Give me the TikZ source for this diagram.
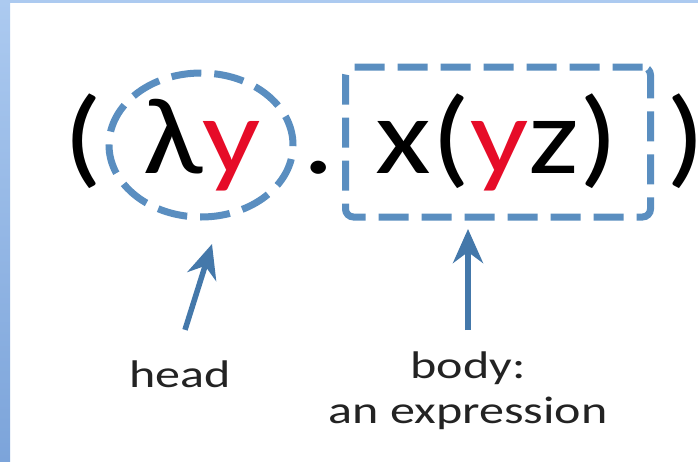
\documentclass[tikz,border=0pt]{standalone}
\usepackage{fontspec}
\setmainfont{Carlito}
\usetikzlibrary{arrows.meta,shapes.geometric}
\definecolor{dashblue}{RGB}{90,142,192}
\definecolor{pointblue}{RGB}{68,120,170}
\definecolor{varred}{RGB}{230,12,40}
\definecolor{taggray}{RGB}{35,35,35}
\definecolor{framelight}{RGB}{172,202,240}
\definecolor{framedark}{RGB}{124,164,218}
\newcommand{\wideterm}[1]{\scalebox{1.18}[1]{#1}}
\newcommand{\widetag}[1]{\scalebox{1.3}[1]{#1}}

\begin{document}
\begin{tikzpicture}[x=1pt,y=-1pt,line width=0.9pt,>={Stealth[length=34pt,width=30pt]},
  term/.style={font=\fontsize{109}{120}\selectfont,inner sep=0pt,anchor=base},
  tag/.style={font=\fontsize{38.5}{45}\selectfont,text=taggray,inner sep=0pt,anchor=base},
  dashline/.style={draw=dashblue,line width=7pt,dash pattern=on 30pt off 13pt},
  pointer/.style={->,draw=pointblue,line width=5.5pt}]
% page and frame
\fill[white] (0,0) rectangle (698,461);
\shade[top color=framelight,bottom color=framedark] (0,0) rectangle (10,461);
\fill[framelight] (0,0) rectangle (698,3);
\useasboundingbox (0,0) rectangle (698,461);
% the term
\node[term] (lparen) at (83,173) {\wideterm{(}};
\node[term] (lamy) at (202,173) {\wideterm{λ\textcolor{varred}{y}}};
\node[term] (dot) at (319,173) {\wideterm{.}};
\node[term] (bodyterm) at (497,173) {\wideterm{x(\textcolor{varred}{y}z)}};
\node[term] (rparen) at (686,173) {\wideterm{)}};
% dashed marks
\node[ellipse,dashline,minimum width=184pt,minimum height=144pt,inner sep=0pt,outer sep=0pt] (ring) at (201,145) {};
\node[rectangle,dashline,rounded corners=8pt,minimum width=305pt,minimum height=150pt,inner sep=0pt,outer sep=0pt] (bodybox) at (498,142) {};
% labels
\node[tag] (headtag) at (180,387) {\widetag{head}};
\node[tag] (bodytag) at (468,378) {\widetag{\begin{tabular}[t]{@{}c@{}}body:\\an expression\end{tabular}}};
% arrows
\draw[pointer] ([shift={(5,-30)}]headtag.north) -- ([shift={(11,27)}]ring.south);
\draw[pointer,shorten <=16pt,shorten >=12pt] (bodytag.north) -- (bodytag.north |- bodybox.south);
\end{tikzpicture}
\end{document}
